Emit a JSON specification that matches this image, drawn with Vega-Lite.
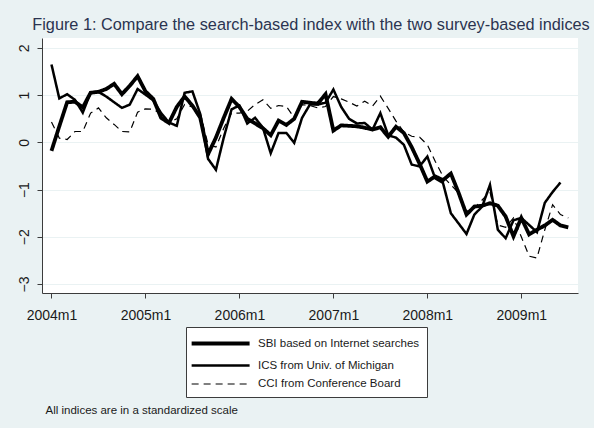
{
  "$schema": "https://vega.github.io/schema/vega-lite/v6.json",
  "autosize": {"type": "none"},
  "width": 536,
  "height": 255,
  "padding": {"left": 42, "top": 38, "right": 16, "bottom": 135},
  "background": "#eaf2f3",
  "view": {"fill": "white", "stroke": null},
  "config": {
    "font": "Liberation Sans",
    "axis": {"gridColor": "#eaf2f3", "gridWidth": 1.2, "domainColor": "#3c3c3c", "tickColor": "#3c3c3c", "labelColor": "#1a1a1a", "labelFontSize": 14},
    "legend": {
      "orient": "none",
      "legendX": 144,
      "legendY": 289,
      "direction": "vertical",
      "fillColor": "white",
      "strokeColor": "#3c3c3c",
      "padding": 7,
      "symbolType": "M-1.5,0 L6.5,0",
      "symbolSize": 210,
      "symbolStrokeColor": "black",
      "labelOffset": 46,
      "labelFontSize": 11.5,
      "labelColor": "#1a1a1a",
      "labelLimit": 300,
      "rowPadding": 5
    }
  },
  "title": {
    "text": "Figure 1: Compare the search-based index with the two survey-based indices",
    "anchor": "middle",
    "fontSize": 16.3,
    "fontWeight": "normal",
    "color": "#2b3450",
    "offset": 5,
    "dx": 1
  },
  "data": {
    "values": [
      {"m": 0, "s": "SBI", "v": -0.18}, {"m": 1, "s": "SBI", "v": 0.34}, {"m": 2, "s": "SBI", "v": 0.85}, {"m": 3, "s": "SBI", "v": 0.86},
      {"m": 4, "s": "SBI", "v": 0.74}, {"m": 5, "s": "SBI", "v": 1.05}, {"m": 6, "s": "SBI", "v": 1.07}, {"m": 7, "s": "SBI", "v": 1.13},
      {"m": 8, "s": "SBI", "v": 1.24}, {"m": 9, "s": "SBI", "v": 1.02}, {"m": 10, "s": "SBI", "v": 1.2}, {"m": 11, "s": "SBI", "v": 1.4},
      {"m": 12, "s": "SBI", "v": 1.08}, {"m": 13, "s": "SBI", "v": 0.92}, {"m": 14, "s": "SBI", "v": 0.52}, {"m": 15, "s": "SBI", "v": 0.41},
      {"m": 16, "s": "SBI", "v": 0.75}, {"m": 17, "s": "SBI", "v": 0.97}, {"m": 18, "s": "SBI", "v": 0.78}, {"m": 19, "s": "SBI", "v": 0.52},
      {"m": 20, "s": "SBI", "v": -0.25}, {"m": 21, "s": "SBI", "v": 0.1}, {"m": 22, "s": "SBI", "v": 0.52}, {"m": 23, "s": "SBI", "v": 0.92},
      {"m": 24, "s": "SBI", "v": 0.75}, {"m": 25, "s": "SBI", "v": 0.5}, {"m": 26, "s": "SBI", "v": 0.4}, {"m": 27, "s": "SBI", "v": 0.3},
      {"m": 28, "s": "SBI", "v": 0.15}, {"m": 29, "s": "SBI", "v": 0.46}, {"m": 30, "s": "SBI", "v": 0.37}, {"m": 31, "s": "SBI", "v": 0.5},
      {"m": 32, "s": "SBI", "v": 0.86}, {"m": 33, "s": "SBI", "v": 0.84}, {"m": 34, "s": "SBI", "v": 0.82}, {"m": 35, "s": "SBI", "v": 1.02},
      {"m": 36, "s": "SBI", "v": 0.25}, {"m": 37, "s": "SBI", "v": 0.36}, {"m": 38, "s": "SBI", "v": 0.35}, {"m": 39, "s": "SBI", "v": 0.34},
      {"m": 40, "s": "SBI", "v": 0.31}, {"m": 41, "s": "SBI", "v": 0.27}, {"m": 42, "s": "SBI", "v": 0.32}, {"m": 43, "s": "SBI", "v": 0.12},
      {"m": 44, "s": "SBI", "v": 0.33}, {"m": 45, "s": "SBI", "v": 0.2}, {"m": 46, "s": "SBI", "v": -0.1}, {"m": 47, "s": "SBI", "v": -0.45},
      {"m": 48, "s": "SBI", "v": -0.83}, {"m": 49, "s": "SBI", "v": -0.72}, {"m": 50, "s": "SBI", "v": -0.8}, {"m": 51, "s": "SBI", "v": -0.66},
      {"m": 52, "s": "SBI", "v": -1.07}, {"m": 53, "s": "SBI", "v": -1.53}, {"m": 54, "s": "SBI", "v": -1.36}, {"m": 55, "s": "SBI", "v": -1.34},
      {"m": 56, "s": "SBI", "v": -1.29}, {"m": 57, "s": "SBI", "v": -1.34}, {"m": 58, "s": "SBI", "v": -1.57}, {"m": 59, "s": "SBI", "v": -1.99},
      {"m": 60, "s": "SBI", "v": -1.6}, {"m": 61, "s": "SBI", "v": -1.95}, {"m": 62, "s": "SBI", "v": -1.85}, {"m": 63, "s": "SBI", "v": -1.76},
      {"m": 64, "s": "SBI", "v": -1.64}, {"m": 65, "s": "SBI", "v": -1.76}, {"m": 66, "s": "SBI", "v": -1.8},

      {"m": 0, "s": "ICS", "v": 1.65}, {"m": 1, "s": "ICS", "v": 0.93}, {"m": 2, "s": "ICS", "v": 1.02}, {"m": 3, "s": "ICS", "v": 0.9},
      {"m": 4, "s": "ICS", "v": 0.63}, {"m": 5, "s": "ICS", "v": 1.06}, {"m": 6, "s": "ICS", "v": 1.07}, {"m": 7, "s": "ICS", "v": 0.97},
      {"m": 8, "s": "ICS", "v": 0.85}, {"m": 9, "s": "ICS", "v": 0.73}, {"m": 10, "s": "ICS", "v": 0.8}, {"m": 11, "s": "ICS", "v": 1.13},
      {"m": 12, "s": "ICS", "v": 1.01}, {"m": 13, "s": "ICS", "v": 0.89}, {"m": 14, "s": "ICS", "v": 0.62}, {"m": 15, "s": "ICS", "v": 0.42},
      {"m": 16, "s": "ICS", "v": 0.35}, {"m": 17, "s": "ICS", "v": 1.05}, {"m": 18, "s": "ICS", "v": 1.08}, {"m": 19, "s": "ICS", "v": 0.6},
      {"m": 20, "s": "ICS", "v": -0.35}, {"m": 21, "s": "ICS", "v": -0.58}, {"m": 22, "s": "ICS", "v": 0.1}, {"m": 23, "s": "ICS", "v": 0.7},
      {"m": 24, "s": "ICS", "v": 0.78}, {"m": 25, "s": "ICS", "v": 0.4}, {"m": 26, "s": "ICS", "v": 0.52}, {"m": 27, "s": "ICS", "v": 0.31},
      {"m": 28, "s": "ICS", "v": -0.23}, {"m": 29, "s": "ICS", "v": 0.2}, {"m": 30, "s": "ICS", "v": 0.2}, {"m": 31, "s": "ICS", "v": -0.01},
      {"m": 32, "s": "ICS", "v": 0.52}, {"m": 33, "s": "ICS", "v": 0.8}, {"m": 34, "s": "ICS", "v": 0.8}, {"m": 35, "s": "ICS", "v": 0.84},
      {"m": 36, "s": "ICS", "v": 1.12}, {"m": 37, "s": "ICS", "v": 0.75}, {"m": 38, "s": "ICS", "v": 0.5}, {"m": 39, "s": "ICS", "v": 0.4},
      {"m": 40, "s": "ICS", "v": 0.41}, {"m": 41, "s": "ICS", "v": 0.27}, {"m": 42, "s": "ICS", "v": 0.62}, {"m": 43, "s": "ICS", "v": 0.15},
      {"m": 44, "s": "ICS", "v": 0.1}, {"m": 45, "s": "ICS", "v": -0.05}, {"m": 46, "s": "ICS", "v": -0.47}, {"m": 47, "s": "ICS", "v": -0.51},
      {"m": 48, "s": "ICS", "v": -0.3}, {"m": 49, "s": "ICS", "v": -0.76}, {"m": 50, "s": "ICS", "v": -0.86}, {"m": 51, "s": "ICS", "v": -1.5},
      {"m": 52, "s": "ICS", "v": -1.72}, {"m": 53, "s": "ICS", "v": -1.94}, {"m": 54, "s": "ICS", "v": -1.53}, {"m": 55, "s": "ICS", "v": -1.36},
      {"m": 56, "s": "ICS", "v": -0.9}, {"m": 57, "s": "ICS", "v": -1.85}, {"m": 58, "s": "ICS", "v": -2.03}, {"m": 59, "s": "ICS", "v": -1.65},
      {"m": 60, "s": "ICS", "v": -1.6}, {"m": 61, "s": "ICS", "v": -1.75}, {"m": 62, "s": "ICS", "v": -1.9}, {"m": 63, "s": "ICS", "v": -1.28},
      {"m": 64, "s": "ICS", "v": -1.05}, {"m": 65, "s": "ICS", "v": -0.85},

      {"m": 0, "s": "CCI", "v": 0.43}, {"m": 1, "s": "CCI", "v": 0.09}, {"m": 2, "s": "CCI", "v": 0.06}, {"m": 3, "s": "CCI", "v": 0.23},
      {"m": 4, "s": "CCI", "v": 0.23}, {"m": 5, "s": "CCI", "v": 0.62}, {"m": 6, "s": "CCI", "v": 0.73}, {"m": 7, "s": "CCI", "v": 0.52},
      {"m": 8, "s": "CCI", "v": 0.38}, {"m": 9, "s": "CCI", "v": 0.23}, {"m": 10, "s": "CCI", "v": 0.22}, {"m": 11, "s": "CCI", "v": 0.64},
      {"m": 12, "s": "CCI", "v": 0.71}, {"m": 13, "s": "CCI", "v": 0.7}, {"m": 14, "s": "CCI", "v": 0.6}, {"m": 15, "s": "CCI", "v": 0.42},
      {"m": 16, "s": "CCI", "v": 0.5}, {"m": 17, "s": "CCI", "v": 0.8}, {"m": 18, "s": "CCI", "v": 0.75}, {"m": 19, "s": "CCI", "v": 0.62},
      {"m": 20, "s": "CCI", "v": -0.05}, {"m": 21, "s": "CCI", "v": -0.1}, {"m": 22, "s": "CCI", "v": 0.3}, {"m": 23, "s": "CCI", "v": 0.62},
      {"m": 24, "s": "CCI", "v": 0.62}, {"m": 25, "s": "CCI", "v": 0.66}, {"m": 26, "s": "CCI", "v": 0.8}, {"m": 27, "s": "CCI", "v": 0.9},
      {"m": 28, "s": "CCI", "v": 0.72}, {"m": 29, "s": "CCI", "v": 0.78}, {"m": 30, "s": "CCI", "v": 0.76}, {"m": 31, "s": "CCI", "v": 0.52},
      {"m": 32, "s": "CCI", "v": 0.8}, {"m": 33, "s": "CCI", "v": 0.78}, {"m": 34, "s": "CCI", "v": 0.73}, {"m": 35, "s": "CCI", "v": 0.76},
      {"m": 36, "s": "CCI", "v": 0.97}, {"m": 37, "s": "CCI", "v": 0.92}, {"m": 38, "s": "CCI", "v": 0.85}, {"m": 39, "s": "CCI", "v": 0.77},
      {"m": 40, "s": "CCI", "v": 0.87}, {"m": 41, "s": "CCI", "v": 0.77}, {"m": 42, "s": "CCI", "v": 0.98}, {"m": 43, "s": "CCI", "v": 0.72},
      {"m": 44, "s": "CCI", "v": 0.45}, {"m": 45, "s": "CCI", "v": 0.22}, {"m": 46, "s": "CCI", "v": 0.13}, {"m": 47, "s": "CCI", "v": 0.11},
      {"m": 48, "s": "CCI", "v": -0.05}, {"m": 49, "s": "CCI", "v": -0.4}, {"m": 50, "s": "CCI", "v": -0.72}, {"m": 51, "s": "CCI", "v": -0.9},
      {"m": 52, "s": "CCI", "v": -1.07}, {"m": 53, "s": "CCI", "v": -1.46}, {"m": 54, "s": "CCI", "v": -1.39}, {"m": 55, "s": "CCI", "v": -1.22},
      {"m": 56, "s": "CCI", "v": -1.05}, {"m": 57, "s": "CCI", "v": -1.75}, {"m": 58, "s": "CCI", "v": -1.8}, {"m": 59, "s": "CCI", "v": -1.6},
      {"m": 60, "s": "CCI", "v": -2.0}, {"m": 61, "s": "CCI", "v": -2.41}, {"m": 62, "s": "CCI", "v": -2.45}, {"m": 63, "s": "CCI", "v": -1.85},
      {"m": 64, "s": "CCI", "v": -1.32}, {"m": 65, "s": "CCI", "v": -1.53}, {"m": 66, "s": "CCI", "v": -1.6}
    ]
  },
  "mark": {"type": "line", "color": "black", "strokeJoin": "miter", "clip": true},
  "encoding": {
    "x": {
      "field": "m",
      "type": "quantitative",
      "scale": {"domain": [-1.21, 67.24], "nice": false, "zero": false},
      "axis": {
        "values": [0, 12, 24, 36, 48, 60],
        "labelExpr": "toString(2004 + datum.value / 12) + 'm1'",
        "grid": false,
        "tickSize": 5,
        "labelPadding": 10,
        "title": "All indices are in a standardized scale",
        "titleFontSize": 11.5,
        "titleFontWeight": "normal",
        "titleColor": "#1a1a1a",
        "titleAnchor": "start",
        "titleAlign": "left",
        "titleBaseline": "middle",
        "titleX": 3,
        "titleY": 117
      }
    },
    "y": {
      "field": "v",
      "type": "quantitative",
      "scale": {"domain": [-3.19, 2.21], "nice": false, "zero": false},
      "axis": {
        "values": [-3, -2, -1, 0, 1, 2],
        "labelAngle": 270,
        "labelAlign": "center",
        "labelBaseline": "bottom",
        "labelPadding": 6,
        "tickSize": 5,
        "grid": true,
        "title": null
      }
    },
    "strokeWidth": {
      "field": "s",
      "type": "nominal",
      "scale": {"domain": ["SBI", "ICS", "CCI"], "range": [3.8, 1.2, 2.1]},
      "legend": {
        "title": null,
        "labelExpr": "datum.label == 'SBI' ? 'SBI based on Internet searches' : datum.label == 'ICS' ? 'ICS from Univ. of Michigan' : 'CCI from Conference Board'"
      }
    },
    "strokeDash": {
      "field": "s",
      "type": "nominal",
      "scale": {"domain": ["SBI", "ICS", "CCI"], "range": [[1, 0], [1, 0], [7, 5]]},
      "legend": {
        "title": null,
        "labelExpr": "datum.label == 'SBI' ? 'SBI based on Internet searches' : datum.label == 'ICS' ? 'ICS from Univ. of Michigan' : 'CCI from Conference Board'"
      }
    }
  }
}
